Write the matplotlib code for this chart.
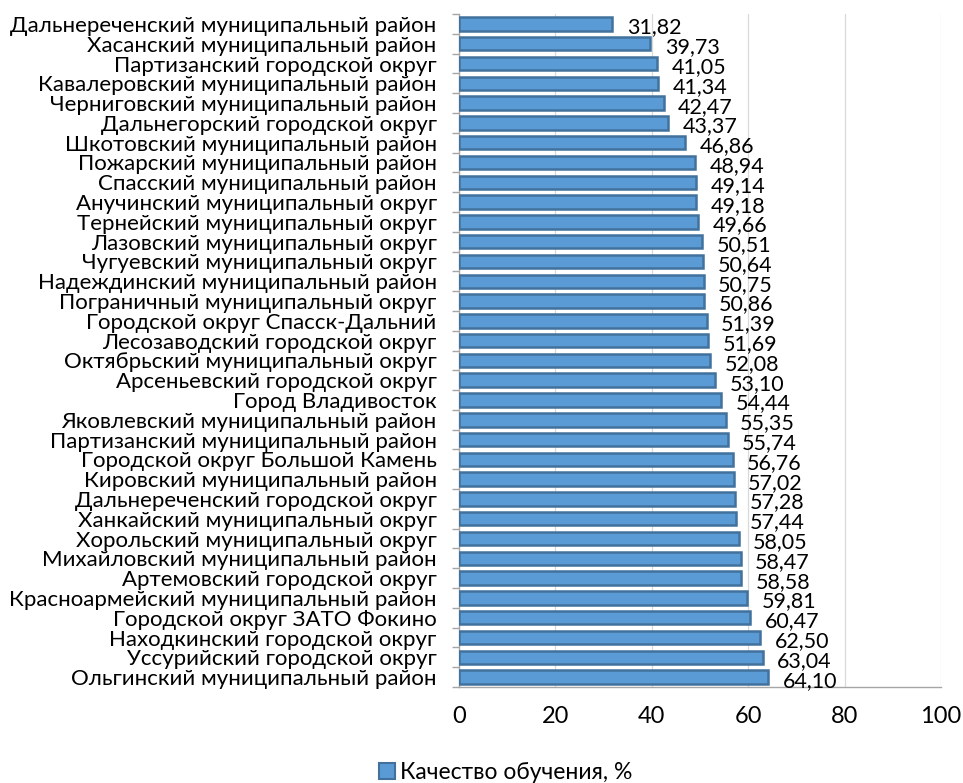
import numpy as np
import matplotlib.pyplot as plt
from matplotlib.patches import Patch

plt.rcParams['font.family'] = ['Lato', 'DejaVu Sans']

# Районы (сверху вниз, как на диаграмме)
districts = [
    'Дальнереченский муниципальный район',
    'Хасанский муниципальный район',
    'Партизанский городской округ',
    'Кавалеровский муниципальный район',
    'Черниговский муниципальный район',
    'Дальнегорский городской округ',
    'Шкотовский муниципальный район',
    'Пожарский муниципальный район',
    'Спасский муниципальный район',
    'Анучинский муниципальный округ',
    'Тернейский муниципальный округ',
    'Лазовский муниципальный округ',
    'Чугуевский муниципальный округ',
    'Надеждинский муниципальный район',
    'Пограничный муниципальный округ',
    'Городской округ Спасск-Дальний',
    'Лесозаводский городской округ',
    'Октябрьский муниципальный округ',
    'Арсеньевский городской округ',
    'Город Владивосток',
    'Яковлевский муниципальный район',
    'Партизанский муниципальный район',
    'Городской округ Большой Камень',
    'Кировский муниципальный район',
    'Дальнереченский городской округ',
    'Ханкайский муниципальный округ',
    'Хорольский муниципальный округ',
    'Михайловский муниципальный район',
    'Артемовский городской округ',
    'Красноармейский муниципальный район',
    'Городской округ ЗАТО Фокино',
    'Находкинский городской округ',
    'Уссурийский городской округ',
    'Ольгинский муниципальный район',
]
quality = [31.82, 39.73, 41.05, 41.34, 42.47, 43.37, 46.86, 48.94, 49.14, 49.18,
           49.66, 50.51, 50.64, 50.75, 50.86, 51.39, 51.69, 52.08, 53.10, 54.44,
           55.35, 55.74, 56.76, 57.02, 57.28, 57.44, 58.05, 58.47, 58.58, 59.81,
           60.47, 62.50, 63.04, 64.10]
x_ticks = [0, 20, 40, 60, 80, 100]
series_name = 'Качество обучения, %'

fill = '#5B9BD5'
edge = '#41719C'

fig = plt.figure(figsize=(9.63, 7.83), dpi=100)
ax = fig.add_axes([0.4766, 0.1226, 0.5005, 0.8595])

y = np.arange(len(districts))
ax.barh(y, quality, height=0.68, color=fill, edgecolor=edge, linewidth=1.8, zorder=3)

for yi, v in zip(y, quality):
    ax.text(v + 3.0, yi + 0.18, f'{v:.2f}'.replace('.', ','), va='center', ha='left',
            fontsize=15.5, color='black', zorder=4)

ax.set_xlim(0, 100)
ax.set_ylim(len(districts) - 0.5, -0.5)
ax.set_xticks(x_ticks)
ax.set_xticklabels([str(t) for t in x_ticks], fontsize=17)
ax.tick_params(axis='x', length=0, pad=14)
ax.grid(axis='x', color='#D9D9D9', linewidth=0.9, zorder=0)

# подписи категорий в центрах, засечки на границах
ax.set_yticks(np.arange(len(districts) + 1) - 0.5)
ax.set_yticklabels([])
ax.tick_params(axis='y', which='major', length=5, color='#A6A6A6', width=1)
ax.set_yticks(y, minor=True)
ax.set_yticklabels(districts, minor=True, fontsize=16)
ax.tick_params(axis='y', which='minor', length=0, pad=16)

for s in ['top', 'right']:
    ax.spines[s].set_visible(False)
for s in ['left', 'bottom']:
    ax.spines[s].set_color('#A6A6A6')
    ax.spines[s].set_linewidth(1)

handle = Patch(facecolor=fill, edgecolor=edge, linewidth=1.5)
fig.legend([handle], [series_name], loc='center', bbox_to_anchor=(0.525, 0.013),
           frameon=False, fontsize=16.5, handlelength=0.7, handleheight=0.7,
           handletextpad=0.2)

fig.savefig('out.png', dpi=100)
